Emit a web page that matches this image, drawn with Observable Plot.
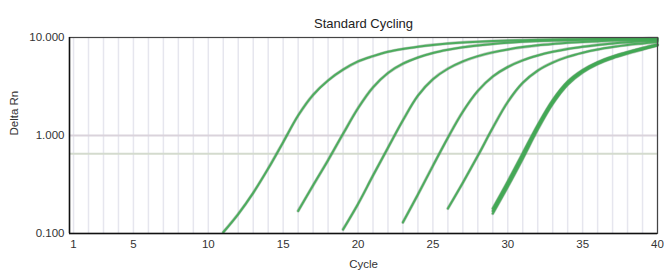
<!DOCTYPE html>
<html>
<head>
<meta charset="utf-8">
<script src="https://cdn.jsdelivr.net/npm/d3@7"></script>
<script src="https://cdn.jsdelivr.net/npm/@observablehq/plot@0.6"></script>
<style>
  html, body { margin: 0; padding: 0; background: #fff; }
  #chart { width: 664px; height: 270px; }
</style>
</head>
<body>
<div id="chart"></div>
<script>
// ---- data ----
const title = "Standard Cycling";
const xLabel = "Cycle";
const yLabel = "Delta Rn";
const xTicks = [1, 5, 10, 15, 20, 25, 30, 35, 40];
const yTicks = [0.1, 1, 10];
const yTickLabels = ["0.100", "1.000", "10.000"];
const gridCycles = d3.range(1, 41);
const referenceLine = 1.0;
const thresholdLine = 0.65;

const curveStarts = [11, 16, 19, 23, 26, 29, 29, 29];
const curve1 = [0.103, 0.158, 0.26, 0.46, 0.855, 1.6, 2.6, 3.65, 4.7, 5.7, 6.45, 7.15, 7.65, 8.05, 8.4, 8.68, 8.9, 9.05, 9.2, 9.3, 9.4, 9.47, 9.53, 9.58, 9.62, 9.66, 9.7, 9.73, 9.76, 9.8];
const curve2 = [0.17, 0.31, 0.56, 1.04, 1.9, 3.1, 4.35, 5.4, 6.25, 6.95, 7.5, 7.95, 8.3, 8.6, 8.85, 9.05, 9.2, 9.3, 9.4, 9.47, 9.53, 9.58, 9.62, 9.66, 9.7];
const curve3 = [0.11, 0.20, 0.39, 0.75, 1.43, 2.55, 3.75, 4.8, 5.7, 6.45, 7.05, 7.55, 7.98, 8.32, 8.6, 8.85, 9.0, 9.15, 9.3, 9.4, 9.45, 9.5];
const curve4 = [0.13, 0.25, 0.49, 0.95, 1.75, 2.85, 4.0, 5.0, 5.85, 6.55, 7.15, 7.65, 8.05, 8.4, 8.7, 8.95, 9.15, 9.3];
const curve5 = [0.18, 0.33, 0.62, 1.2, 2.2, 3.45, 4.6, 5.55, 6.35, 7.0, 7.55, 8.0, 8.4, 8.7, 9.0];
const curve6a = [0.16, 0.30, 0.58, 1.15, 2.1, 3.3, 4.4, 5.35, 6.15, 6.85, 7.55, 8.3];
const curve6b = [0.17, 0.32, 0.62, 1.22, 2.2, 3.45, 4.55, 5.5, 6.3, 7.0, 7.7, 8.4];
const curve6c = [0.18, 0.34, 0.66, 1.28, 2.3, 3.55, 4.65, 5.6, 6.4, 7.1, 7.8, 8.5];
const curves = [curve1, curve2, curve3, curve4, curve5, curve6a, curve6b, curve6c];

const rows = curves.flatMap((vals, k) =>
  vals.map((v, i) => ({ id: k, cycle: curveStarts[k] + i, value: v })));

const font = "'Liberation Sans', Arial, Helvetica, sans-serif";

const chart = Plot.plot({
  width: 664,
  height: 270,
  marginLeft: 69,
  marginRight: 7,
  marginTop: 37,
  marginBottom: 37,
  style: { fontFamily: font, fontSize: "11.5px", color: "#333", background: "#fff" },
  x: { domain: [0.73, 40], ticks: xTicks, tickSize: 0, tickPadding: 6, label: null },
  y: { type: "log", domain: [0.1, 10], ticks: yTicks, tickSize: 0, tickPadding: 5,
       tickFormat: d => yTickLabels[yTicks.indexOf(d)] ?? "", label: null },
  marks: [
    Plot.ruleX(gridCycles, { stroke: "#e6e6ee", strokeWidth: 1.5 }),
    Plot.ruleY([referenceLine], { stroke: "#dad3db", strokeWidth: 2 }),
    Plot.ruleY([thresholdLine], { stroke: "#d4dbce", strokeWidth: 2 }),
    Plot.line(rows, { x: "cycle", y: "value", z: "id", curve: "catmull-rom",
      stroke: "#5f7f62", strokeWidth: 3.2, strokeOpacity: 0.4 }),
    Plot.line(rows, { x: "cycle", y: "value", z: "id", curve: "catmull-rom",
      stroke: "#40a853", strokeWidth: 2, strokeOpacity: 0.9 }),
    Plot.frame({ stroke: "#444", strokeWidth: 1.2 }),
    Plot.ruleX([0.73], { stroke: "#111", strokeWidth: 1.5 }),
    Plot.ruleY([0.1], { stroke: "#111", strokeWidth: 1.5 }),
    Plot.axisX({ ticks: xTicks, tickSize: 0, tickPadding: 6, label: null, fill: "#333" }),
    Plot.axisY({ ticks: yTicks, tickSize: 0, tickPadding: 5, label: null, fill: "#333",
      tickFormat: d => yTickLabels[yTicks.indexOf(d)] ?? "" }),
    Plot.text([title], { frameAnchor: "top", dy: -19, fontSize: 13, fill: "#222" }),
    Plot.text([xLabel], { frameAnchor: "bottom", dy: 34, fontSize: 11.5, fill: "#333" }),
    Plot.text([yLabel], { frameAnchor: "left", dx: -55, rotate: -90, fontSize: 11.5, fill: "#333" })
  ]
});
document.getElementById("chart").appendChild(chart);
</script>
</body>
</html>
